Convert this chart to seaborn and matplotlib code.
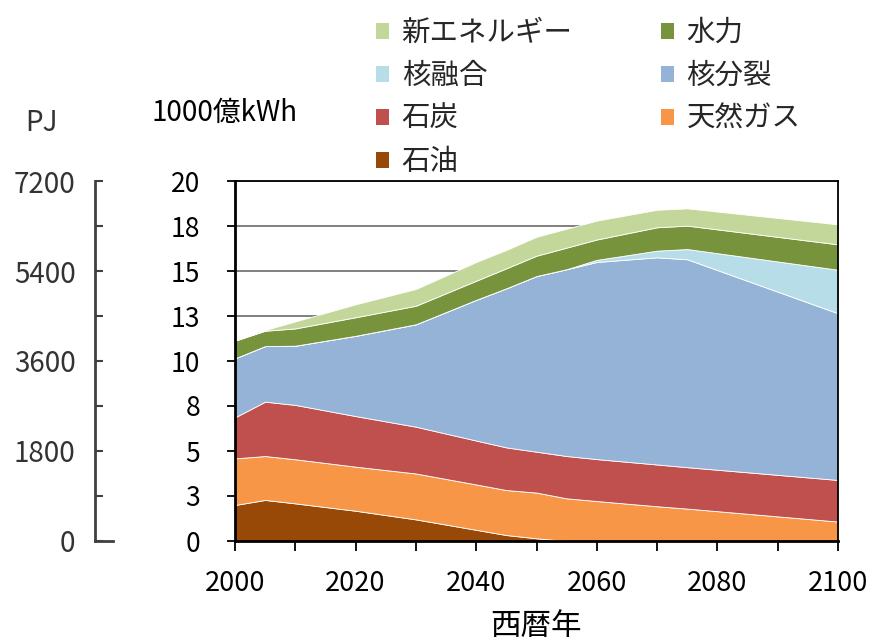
import numpy as np
import pandas as pd
import matplotlib
matplotlib.use("Agg")
import matplotlib.pyplot as plt
from matplotlib.patches import Patch
import seaborn as sns

# ---- data (1000億kWh) ----
years = [2000, 2005, 2010, 2020, 2030, 2040, 2045, 2050, 2055, 2060, 2070, 2075, 2100]
oil     = [2.00, 2.28, 2.09, 1.68, 1.20, 0.62, 0.33, 0.15, 0.00, 0.00, 0.00, 0.00, 0.00]
gas     = [2.59, 2.44, 2.45, 2.45, 2.55, 2.52, 2.50, 2.54, 2.37, 2.22, 1.93, 1.80, 1.08]
coal    = [2.28, 3.02, 3.02, 2.81, 2.60, 2.44, 2.37, 2.27, 2.35, 2.33, 2.32, 2.30, 2.31]
fission = [3.28, 3.09, 3.29, 4.46, 5.69, 7.82, 8.84, 9.76, 10.38, 10.95, 11.51, 11.55, 9.26]
fusion  = [0.00, 0.00, 0.00, 0.00, 0.00, 0.00, 0.00, 0.00, 0.00, 0.12, 0.37, 0.57, 2.42]
hydro   = [0.98, 0.85, 0.96, 1.03, 1.03, 1.06, 1.11, 1.13, 1.20, 1.13, 1.30, 1.30, 1.41]
newe    = [0.00, 0.04, 0.39, 0.72, 0.93, 1.04, 1.02, 1.05, 1.05, 1.05, 0.97, 0.96, 1.11]

names  = ["石油", "天然ガス", "石炭", "核分裂", "核融合", "水力", "新エネルギー"]
colors = ["#984807", "#F79646", "#C0504D", "#95B3D7", "#B7DEE8", "#77933C", "#C4D79B"]

y_ticks = [0, 2.5, 5, 7.5, 10, 12.5, 15, 17.5, 20]
y_labels = ["0", "3", "5", "8", "10", "13", "15", "18", "20"]
x_ticks = [2000, 2020, 2040, 2060, 2080, 2100]
pj_ticks = [0, 900, 1800, 2700, 3600, 4500, 5400, 6300, 7200]
pj_labels = ["0", "", "1800", "", "3600", "", "5400", "", "7200"]

df = pd.DataFrame({"year": years, "石油": oil, "天然ガス": gas, "石炭": coal,
                   "核分裂": fission, "核融合": fusion, "水力": hydro,
                   "新エネルギー": newe})

sns.set_theme(style="white")
plt.rcParams['font.family'] = ['Noto Sans CJK JP', 'DejaVu Sans']

W, H = 873, 644
fig = plt.figure(figsize=(W / 100, H / 100), dpi=100)
ax = fig.add_axes([235 / W, (H - 541) / H, (838 - 235) / W, (541 - 181) / H])

ax.stackplot(df["year"], [df[n] for n in names], colors=colors,
             edgecolor="white", linewidth=0.6, zorder=2)

ax.set_xlim(2000, 2100)
ax.set_ylim(0, 20)
ax.set_yticks(y_ticks)
ax.set_yticklabels(y_labels)
ax.set_xticks(x_ticks)
ax.set_xticks(np.arange(2000, 2101, 10), minor=True)
ax.grid(axis="y", color="#808080", linewidth=1.4, zorder=0)
ax.set_axisbelow(True)
ax.tick_params(axis="y", which="major", direction="out", length=6, width=1.3,
               color="black", labelsize=19, pad=19, left=True, labelcolor="black")
ax.tick_params(axis="x", which="both", direction="out", length=7, width=1.3,
               color="black", labelsize=19.5, pad=14, bottom=True, labelcolor="black")
for s in ["left", "bottom"]:
    ax.spines[s].set_color("black")
    ax.spines[s].set_linewidth(2)
for s in ["top", "right"]:
    ax.spines[s].set_color("black")
    ax.spines[s].set_linewidth(1.3)
ax.set_xlabel("西暦年", fontsize=22, labelpad=10, color="black")

# secondary PJ axis on the far left
ax2 = fig.add_axes([95 / W, (H - 541) / H, (113 - 95) / W, (541 - 181) / H])
ax2.set_facecolor("none")
ax2.set_ylim(0, 7200)
ax2.set_yticks(pj_ticks)
ax2.set_yticklabels(pj_labels)
ax2.set_xticks([])
for s in ["top", "right"]:
    ax2.spines[s].set_visible(False)
for s in ["left", "bottom"]:
    ax2.spines[s].set_color("#404040")
    ax2.spines[s].set_linewidth(2)
ax2.tick_params(axis="y", direction="in", length=6, width=1.5, color="#404040",
                labelsize=20, labelcolor="#333333", pad=14, left=True)

fig.text(42 / W, 1 - 123 / H, "PJ", fontsize=20, color="#333333",
         ha="center", va="center")
fig.text(151 / W, 1 - 113 / H, "1000億kWh", fontsize=20, color="black",
         ha="left", va="center")

# legend
order = ["新エネルギー", "核融合", "石炭", "石油", "水力", "核分裂", "天然ガス"]
cmap = dict(zip(names, colors))
handles = [Patch(facecolor=cmap[n], edgecolor="none", label=n) for n in order]
fig.legend(handles=handles, loc="upper left", bbox_to_anchor=(376 / W, 1 - 18 / H),
           ncol=2, frameon=False, fontsize=20.5, handlelength=0.45, handleheight=0.45,
           handletextpad=0.45, columnspacing=3.1, labelspacing=0.46,
           borderpad=0, borderaxespad=0)

fig.savefig("out.png", dpi=100)
